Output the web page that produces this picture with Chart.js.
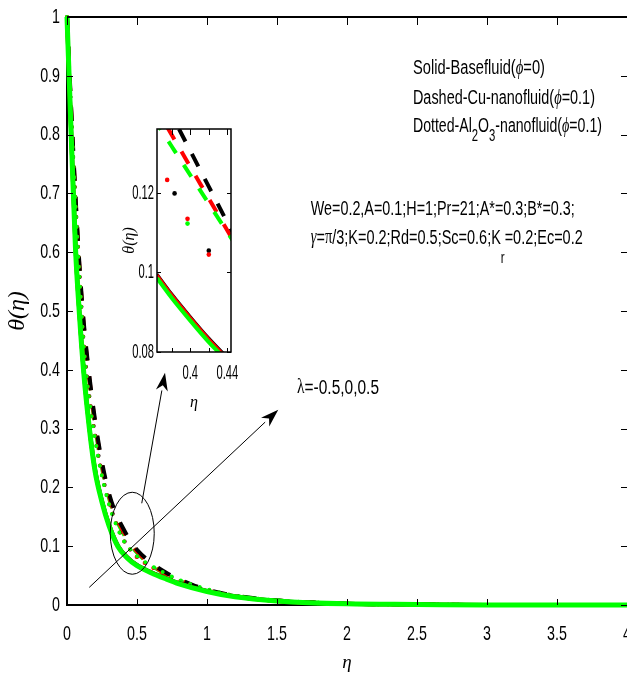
<!DOCTYPE html>
<html>
<head>
<meta charset="utf-8">
<script src="https://cdn.jsdelivr.net/npm/chart.js@4.4.0/dist/chart.umd.min.js"></script>
<style>
  html, body { margin: 0; padding: 0; background: #fff; overflow: hidden; }
  #wrap { position: relative; width: 627px; height: 674px; }
  #main { position: absolute; left: 0; top: 0; }
  #inset { position: absolute; left: 120px; top: 120px; }
</style>
</head>
<body>
<div id="wrap">
  <canvas id="main" width="627" height="674"></canvas>
  <canvas id="inset" width="120" height="295"></canvas>
</div>
<script>
// ---- values ----
// main axes
const xTicks = [0, 0.5, 1, 1.5, 2, 2.5, 3, 3.5, 4];
const yTicks = [0, 0.1, 0.2, 0.3, 0.4, 0.5, 0.6, 0.7, 0.8, 0.9, 1];

// solid: base fluid (phi = 0), lambda = -0.5 / 0 / 0.5 -> black / red / green
const etaSolid   = [0, 0.03, 0.06, 0.09, 0.12, 0.16, 0.2, 0.25, 0.3, 0.365, 0.43, 0.5, 0.6, 0.7, 0.8, 1.0, 1.2, 1.5, 2.0, 2.5, 3, 3.5, 4];
const solidBlack = [1, 0.802, 0.613, 0.492, 0.397, 0.302, 0.231, 0.177, 0.137, 0.1005, 0.0815, 0.068, 0.056, 0.046, 0.037, 0.024, 0.015, 0.007, 0.002, 0.001, 0, 0, 0];
const solidRed   = [1, 0.801, 0.612, 0.491, 0.396, 0.301, 0.230, 0.176, 0.1365, 0.1, 0.081, 0.0675, 0.0555, 0.0455, 0.0365, 0.0235, 0.0145, 0.007, 0.002, 0.001, 0, 0, 0];
const solidGreen = [1, 0.800, 0.610, 0.490, 0.394, 0.300, 0.228, 0.175, 0.135, 0.099, 0.080, 0.067, 0.055, 0.045, 0.036, 0.023, 0.014, 0.007, 0.002, 0.001, 0, 0, 0];

// dashed: Cu nanofluid
const etaDash   = [0, 0.03, 0.06, 0.09, 0.12, 0.15, 0.2, 0.25, 0.3, 0.35, 0.4, 0.45, 0.5, 0.6, 0.7, 0.8, 0.9, 1.0, 1.2, 1.4, 1.6, 1.8, 2.0, 2.5, 3, 3.5, 4];
const dashBlack = [1, 0.845, 0.70, 0.575, 0.48, 0.41, 0.315, 0.243, 0.19, 0.155, 0.131, 0.11, 0.094, 0.072, 0.056, 0.044, 0.034, 0.026, 0.016, 0.010, 0.006, 0.004, 0.002, 0.001, 0, 0, 0];
const dashRed   = [1, 0.84, 0.695, 0.57, 0.475, 0.405, 0.31, 0.238, 0.186, 0.151, 0.127, 0.107, 0.091, 0.070, 0.054, 0.043, 0.033, 0.025, 0.015, 0.009, 0.006, 0.004, 0.002, 0.001, 0, 0, 0];
const dashGreen = [1, 0.835, 0.69, 0.565, 0.47, 0.40, 0.305, 0.233, 0.182, 0.147, 0.123, 0.104, 0.089, 0.068, 0.053, 0.042, 0.032, 0.024, 0.015, 0.009, 0.006, 0.004, 0.002, 0.001, 0, 0, 0];

// dotted: Al2O3 nanofluid
const etaDot   = [0, 0.03, 0.06, 0.1, 0.12, 0.16, 0.2, 0.24, 0.3, 0.35, 0.4, 0.45, 0.5, 0.6, 0.7, 0.8, 0.9, 1.0, 1.2, 1.4, 1.6, 1.8, 2.0, 2.5, 3, 3.5, 4];
const dotBlack = [1, 0.835, 0.69, 0.52, 0.445, 0.355, 0.29, 0.235, 0.175, 0.14, 0.113, 0.095, 0.082, 0.066, 0.053, 0.042, 0.033, 0.026, 0.015, 0.009, 0.005, 0.003, 0.002, 0.001, 0, 0, 0];
const dotRed   = [1, 0.832, 0.686, 0.515, 0.44, 0.35, 0.286, 0.232, 0.173, 0.139, 0.112, 0.094, 0.081, 0.065, 0.052, 0.041, 0.032, 0.025, 0.015, 0.009, 0.005, 0.003, 0.002, 0.001, 0, 0, 0];
const dotGreen = [1, 0.83, 0.683, 0.512, 0.437, 0.347, 0.283, 0.23, 0.171, 0.137, 0.111, 0.095, 0.083, 0.067, 0.054, 0.043, 0.034, 0.027, 0.016, 0.010, 0.006, 0.004, 0.002, 0.001, 0, 0, 0];

// inset (zoom of the circled region)
const insetXTicks = [0.38, 0.4, 0.42, 0.44];
const insetXLabels = [0.4, 0.44];
const insetYTicks = [0.08, 0.1, 0.12];
const insetEtaSolid   = [0.364, 0.38, 0.40, 0.42, 0.44];
const insetSolidBlack = [0.0996, 0.0946, 0.0889, 0.0835, 0.0786];
const insetSolidRed   = [0.0994, 0.0944, 0.0887, 0.0833, 0.0784];
const insetSolidGreen = [0.0986, 0.0936, 0.0879, 0.0825, 0.0777];
const insetEtaDash   = [0.36, 0.38, 0.40, 0.42, 0.446];
const insetDashBlack = [0.1486, 0.1396, 0.1306, 0.1216, 0.1099];
const insetDashRed   = [0.1426, 0.1346, 0.1266, 0.1186, 0.1082];
const insetDashGreen = [0.1389, 0.1317, 0.1245, 0.1173, 0.1080];
const insetDotBlackEta = [0.383, 0.420];
const insetDotBlack    = [0.1199, 0.1055];
const insetDotRedEta   = [0.375, 0.397, 0.420];
const insetDotRed      = [0.1233, 0.1135, 0.1045];
const insetDotGreenEta = [0.397];
const insetDotGreen    = [0.1123];

const BLACK = '#000000', RED = '#ff0000', GREEN = '#00ff00';
const sans = "'Liberation Sans', Arial, sans-serif";
const serif = "'Liberation Serif', 'DejaVu Serif', serif";

Chart.defaults.color = '#000';
Chart.defaults.font.family = sans;

const pts = (xs, ys) => xs.map((v, i) => ({x: v, y: ys[i]}));
const fmt = v => String(Math.round(v * 10000) / 10000);

function solid(xs, ys, color, width, order) {
    return {data: pts(xs, ys), borderColor: color, borderWidth: width, order,
            cubicInterpolationMode: 'monotone', pointRadius: 0};
}
function dashed(xs, ys, color, dash, order) {
    return {data: pts(xs, ys), borderColor: color, borderWidth: 4, borderDash: dash, order,
            cubicInterpolationMode: 'monotone', pointRadius: 0};
}
function dotted(xs, ys, color, order) {
    return {data: pts(xs, ys), borderColor: color, borderWidth: 4, borderDash: [0, 10],
            borderCapStyle: 'round', order, cubicInterpolationMode: 'monotone', pointRadius: 0};
}
function dots(xs, ys, color, order) {
    return {data: pts(xs, ys), showLine: false, pointRadius: 2.3, pointBorderWidth: 0,
            pointBackgroundColor: color, order};
}

// the original figure's tick labels are horizontally squeezed:
// squeeze upright text while the axes are drawn
const condense = {
    id: 'condense',
    beforeDraw(chart, args, opts) {
        const fill = CanvasRenderingContext2D.prototype.fillText;
        chart.ctx.fillText = function (t, x, y, mw) {
            if (this.font.indexOf('italic') >= 0) return fill.call(this, t, x, y, mw);
            this.save();
            this.translate(x, y);
            this.scale(opts.factor, 1);
            fill.call(this, t, 0, 0, mw);
            this.restore();
        };
    },
    beforeDatasetsDraw(chart) {
        delete chart.ctx.fillText;
    }
};

// inward tick marks + frame
const frame = {
    id: 'frame',
    afterDraw(chart, args, opts) {
        const {ctx, chartArea: a, scales: {x, y}} = chart;
        ctx.save();
        ctx.strokeStyle = '#000';
        ctx.lineWidth = opts.width;
        ctx.beginPath();
        if (opts.box) {
            ctx.rect(a.left, a.top, a.right - a.left, a.bottom - a.top);
        } else {
            ctx.moveTo(a.left, a.top);
            ctx.lineTo(a.right, a.top);
        }
        ctx.stroke();
        ctx.lineWidth = 1;
        ctx.beginPath();
        x.ticks.forEach(t => {
            const px = Math.round(x.getPixelForValue(t.value)) + 0.5;
            ctx.moveTo(px, a.bottom); ctx.lineTo(px, a.bottom - opts.len);
            ctx.moveTo(px, a.top); ctx.lineTo(px, a.top + opts.len + 2);
        });
        y.ticks.forEach(t => {
            const py = Math.round(y.getPixelForValue(t.value)) + 0.5;
            ctx.moveTo(a.left, py); ctx.lineTo(a.left + opts.len, py);
            ctx.moveTo(a.right, py); ctx.lineTo(a.right - opts.len, py);
        });
        ctx.stroke();
        ctx.restore();
    }
};

// text with greek letters and subscripts, squeezed to the given width
function richText(ctx, parts, x, y, width, size) {
    const fonts = {
        n: `${size}px ${sans}`,
        g: `italic ${size}px ${serif}`,
        u: `${size}px ${serif}`,
        s: `${Math.round(size * 0.8)}px ${sans}`,
        r: `${Math.round(size * 0.8)}px ${sans}`
    };
    const shift = {n: 0, g: 0, u: 0, s: size * 0.5, r: size * 1.05};
    let total = 0;
    parts.forEach(([t, k]) => { ctx.font = fonts[k]; total += ctx.measureText(t).width; });
    ctx.save();
    ctx.translate(x, y);
    ctx.scale(width / total, 1);
    ctx.textBaseline = 'middle';
    let cx = 0;
    parts.forEach(([t, k]) => {
        ctx.font = fonts[k];
        ctx.fillText(t, cx, shift[k]);
        cx += ctx.measureText(t).width;
    });
    ctx.restore();
}

function arrow(ctx, x0, y0, x1, y1) {
    const ang = Math.atan2(y1 - y0, x1 - x0), len = 18, half = 6;
    const bx = x1 - len * Math.cos(ang), by = y1 - len * Math.sin(ang);
    ctx.beginPath();
    ctx.moveTo(x0, y0);
    ctx.lineTo(bx, by);
    ctx.stroke();
    ctx.beginPath();
    ctx.moveTo(x1, y1);
    ctx.lineTo(bx + half * Math.sin(ang), by - half * Math.cos(ang));
    ctx.lineTo(x1 - len * 0.7 * Math.cos(ang), y1 - len * 0.7 * Math.sin(ang));
    ctx.lineTo(bx - half * Math.sin(ang), by + half * Math.cos(ang));
    ctx.closePath();
    ctx.fill();
}

// annotation texts, anchored in data coordinates (eta, theta)
const noteLines = [
    {eta: 2.471, theta: 0.912, width: 132, parts: [['Solid-Basefluid(', 'n'], ['ϕ', 'g'], ['=0)', 'n']]},
    {eta: 2.471, theta: 0.861, width: 182, parts: [['Dashed-Cu-nanofluid(', 'n'], ['ϕ', 'g'], ['=0.1)', 'n']]},
    {eta: 2.471, theta: 0.813, width: 189, parts: [['Dotted-Al', 'n'], ['2', 's'], ['O', 'n'], ['3', 's'], ['-nanofluid(', 'n'], ['ϕ', 'g'], ['=0.1)', 'n']]},
    {eta: 1.741, theta: 0.672, width: 264, parts: [['We=0.2,A=0.1;H=1;Pr=21;A*=0.3;B*=0.3;', 'n']]},
    {eta: 1.741, theta: 0.624, width: 272, parts: [['γ', 'g'], ['=', 'n'], ['π', 'u'], ['/3;K=0.2;Rd=0.5;Sc=0.6;K', 'n'], ['r', 'r'], ['=0.2;Ec=0.2', 'n']]},
    {eta: 1.643, theta: 0.369, width: 82, parts: [['λ', 'u'], ['=-0.5,0,0.5', 'n']]}
];

const notes = {
    id: 'notes',
    afterDraw(chart) {
        const {ctx, scales: {x, y}} = chart;
        const X = v => x.getPixelForValue(v), Y = v => y.getPixelForValue(v);
        ctx.save();
        ctx.fillStyle = '#000';
        ctx.strokeStyle = '#000';
        noteLines.forEach(n => richText(ctx, n.parts, X(n.eta), Y(n.theta), n.width, 20));
        ctx.lineWidth = 1;
        // circled region
        ctx.beginPath();
        ctx.ellipse(X(0.466), Y(0.122), 22, 41, 0, 0, Math.PI * 2);
        ctx.stroke();
        arrow(ctx, X(0.534), Y(0.173), X(0.70), Y(0.395));   // to inset
        arrow(ctx, X(0.159), Y(0.030), X(1.509), Y(0.332));  // lambda increases
        ctx.restore();
    }
};

new Chart(document.getElementById('main'), {
    type: 'line',
    data: {
        datasets: [
            solid(etaSolid, solidGreen, GREEN, 5, 0),
            solid(etaSolid, solidRed, RED, 4, 1),
            solid(etaSolid, solidBlack, BLACK, 4, 2),
            dotted(etaDot, dotGreen, GREEN, 3),
            dotted(etaDot, dotRed, RED, 4),
            dotted(etaDot, dotBlack, BLACK, 5),
            dashed(etaDash, dashBlack, BLACK, [14, 16], 6),
            dashed(etaDash, dashRed, RED, [14, 16], 7),
            dashed(etaDash, dashGreen, GREEN, [14, 16], 8)
        ]
    },
    options: {
        responsive: false,
        animation: false,
        layout: {padding: {top: 17, left: 0, right: 0, bottom: 0}},
        datasets: {line: {clip: 4}},
        plugins: {
            legend: {display: false}, tooltip: {enabled: false},
            condense: {factor: 0.68},
            frame: {width: 2, len: 6, box: false}
        },
        scales: {
            x: {
                type: 'linear', min: 0, max: 4,
                grid: {display: false, drawTicks: false},
                border: {display: true, color: '#000', width: 2},
                afterBuildTicks: s => { s.ticks = xTicks.map(v => ({value: v})); },
                afterFit: s => { s.height = 69; s.paddingLeft = 0; s.paddingRight = 0; },
                ticks: {font: {size: 21}, padding: 17, maxRotation: 0, autoSkip: false, callback: fmt},
                title: {display: true, text: 'η', font: {family: serif, style: 'italic', size: 19}, padding: {top: 0, bottom: 0}}
            },
            y: {
                type: 'linear', min: 0, max: 1,
                grid: {display: false, drawTicks: false},
                border: {display: true, color: '#000', width: 2},
                afterBuildTicks: s => { s.ticks = yTicks.map(v => ({value: v})); },
                afterFit: s => { s.width = 67; s.paddingTop = 0; s.paddingBottom = 0; },
                ticks: {font: {size: 21}, padding: 7, autoSkip: false, callback: fmt},
                title: {display: true, text: 'θ(η)', font: {family: serif, style: 'italic', size: 24}, padding: {top: 3, bottom: 0}}
            }
        }
    },
    plugins: [condense, frame, notes]
});

new Chart(document.getElementById('inset'), {
    type: 'line',
    data: {
        datasets: [
            solid(insetEtaSolid, insetSolidGreen, GREEN, 4, 0),
            solid(insetEtaSolid, insetSolidRed, RED, 3, 1),
            solid(insetEtaSolid, insetSolidBlack, BLACK, 3, 2),
            dots(insetDotGreenEta, insetDotGreen, GREEN, 3),
            dots(insetDotRedEta, insetDotRed, RED, 4),
            dots(insetDotBlackEta, insetDotBlack, BLACK, 5),
            dashed(insetEtaDash, insetDashGreen, GREEN, [14, 14], 6),
            dashed(insetEtaDash, insetDashRed, RED, [14, 14], 7),
            dashed(insetEtaDash, insetDashBlack, BLACK, [14, 14], 8)
        ]
    },
    options: {
        responsive: false,
        animation: false,
        layout: {padding: {top: 9, left: 0, right: 9, bottom: 0}},
        datasets: {line: {clip: 0}},
        plugins: {
            legend: {display: false}, tooltip: {enabled: false},
            condense: {factor: 0.56},
            frame: {width: 1.5, len: 4, box: true}
        },
        scales: {
            x: {
                type: 'linear', min: 0.364, max: 0.444,
                grid: {display: false, drawTicks: false},
                border: {display: false},
                afterBuildTicks: s => { s.ticks = insetXTicks.map(v => ({value: v})); },
                afterFit: s => { s.height = 63; s.paddingLeft = 0; s.paddingRight = 0; },
                ticks: {font: {size: 20}, padding: 9, maxRotation: 0, autoSkip: false,
                        callback: v => insetXLabels.some(l => Math.abs(l - v) < 1e-9) ? fmt(v) : ''},
                title: {display: true, text: 'η', font: {family: serif, style: 'italic', size: 16}, padding: {top: 0, bottom: 3}}
            },
            y: {
                type: 'linear', min: 0.08, max: 0.1361,
                grid: {display: false, drawTicks: false},
                border: {display: false},
                afterBuildTicks: s => { s.ticks = insetYTicks.map(v => ({value: v})); },
                afterFit: s => { s.width = 37; s.paddingTop = 0; s.paddingBottom = 0; },
                ticks: {font: {size: 20}, padding: 3, autoSkip: false, callback: fmt},
                title: {display: true, text: 'θ(η)', font: {family: serif, style: 'italic', size: 16}, padding: {top: 0, bottom: 0}}
            }
        }
    },
    plugins: [condense, frame]
});
</script>
</body>
</html>
